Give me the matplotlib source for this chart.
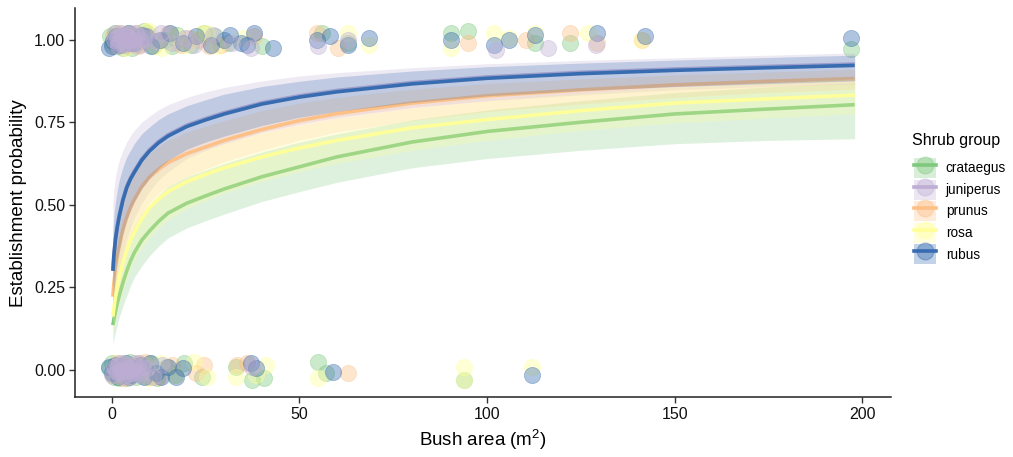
import numpy as np
import matplotlib
matplotlib.use("Agg")
import matplotlib.pyplot as plt
from matplotlib.patches import Patch
from matplotlib.lines import Line2D
from matplotlib.legend_handler import HandlerTuple

plt.rcParams['font.family'] = ['Liberation Sans', 'DejaVu Sans']
plt.rcParams['mathtext.fontset'] = 'custom'
plt.rcParams['mathtext.rm'] = 'Liberation Sans'
plt.rcParams['mathtext.it'] = 'Liberation Sans'

groups = ['crataegus', 'juniperus', 'prunus', 'rosa', 'rubus']
colors = ['#7FC97F', '#BEAED4', '#FDC086', '#FFFF99', '#386CB0']

area = [0.3, 0.6, 1, 1.5, 2, 3, 4, 5, 6, 8, 10, 12.5, 15, 20, 25, 30, 40, 50, 60, 80, 100, 125, 150, 175, 198]

fit = {
    'crataegus': [0.136, 0.155, 0.178, 0.203, 0.225, 0.265, 0.300, 0.330, 0.355, 0.393, 0.420, 0.450, 0.475,
                  0.505, 0.527, 0.548, 0.585, 0.615, 0.645, 0.690, 0.722, 0.750, 0.775, 0.790, 0.803],
    'juniperus': [0.304, 0.354, 0.399, 0.438, 0.469, 0.519, 0.556, 0.582, 0.602, 0.639, 0.666, 0.692, 0.712,
                  0.741, 0.761, 0.779, 0.809, 0.830, 0.846, 0.870, 0.887, 0.901, 0.911, 0.919, 0.926],
    'prunus':    [0.222, 0.265, 0.305, 0.343, 0.372, 0.425, 0.462, 0.492, 0.516, 0.555, 0.583, 0.608, 0.628,
                  0.655, 0.675, 0.695, 0.728, 0.755, 0.776, 0.808, 0.830, 0.848, 0.863, 0.874, 0.882],
    'rosa':      [0.162, 0.190, 0.222, 0.253, 0.280, 0.325, 0.362, 0.392, 0.416, 0.458, 0.490, 0.518, 0.540,
                  0.570, 0.592, 0.612, 0.645, 0.672, 0.695, 0.733, 0.758, 0.785, 0.808, 0.821, 0.832],
    'rubus':     [0.300, 0.350, 0.395, 0.434, 0.465, 0.515, 0.552, 0.578, 0.598, 0.635, 0.662, 0.688, 0.708,
                  0.737, 0.757, 0.775, 0.805, 0.826, 0.842, 0.866, 0.883, 0.897, 0.907, 0.915, 0.922],
}
lower = {
    'crataegus': [0.080, 0.095, 0.115, 0.140, 0.160, 0.195, 0.225, 0.255, 0.280, 0.315, 0.345, 0.375, 0.400,
                  0.430, 0.452, 0.472, 0.510, 0.540, 0.568, 0.612, 0.640, 0.665, 0.685, 0.695, 0.700],
    'juniperus': [0.140, 0.180, 0.220, 0.260, 0.295, 0.350, 0.395, 0.430, 0.460, 0.505, 0.540, 0.575, 0.600,
                  0.640, 0.665, 0.685, 0.720, 0.745, 0.765, 0.795, 0.815, 0.833, 0.848, 0.858, 0.866],
    'prunus':    [0.145, 0.180, 0.215, 0.250, 0.280, 0.330, 0.370, 0.405, 0.430, 0.475, 0.505, 0.535, 0.555,
                  0.585, 0.608, 0.630, 0.665, 0.695, 0.720, 0.755, 0.782, 0.805, 0.825, 0.840, 0.850],
    'rosa':      [0.100, 0.120, 0.150, 0.175, 0.200, 0.240, 0.275, 0.305, 0.330, 0.370, 0.400, 0.430, 0.455,
                  0.488, 0.512, 0.535, 0.570, 0.600, 0.625, 0.665, 0.695, 0.725, 0.748, 0.763, 0.775],
    'rubus':     [0.200, 0.245, 0.290, 0.330, 0.360, 0.415, 0.455, 0.485, 0.510, 0.550, 0.580, 0.610, 0.635,
                  0.668, 0.690, 0.708, 0.740, 0.765, 0.783, 0.810, 0.830, 0.846, 0.858, 0.867, 0.875],
}
upper = {
    'crataegus': [0.210, 0.230, 0.255, 0.280, 0.305, 0.345, 0.380, 0.410, 0.435, 0.475, 0.500, 0.530, 0.555,
                  0.585, 0.605, 0.625, 0.660, 0.690, 0.715, 0.757, 0.787, 0.815, 0.840, 0.857, 0.870],
    'juniperus': [0.500, 0.550, 0.585, 0.615, 0.635, 0.665, 0.690, 0.710, 0.725, 0.750, 0.768, 0.788, 0.803,
                  0.825, 0.842, 0.855, 0.875, 0.890, 0.900, 0.915, 0.927, 0.937, 0.945, 0.953, 0.960],
    'prunus':    [0.320, 0.365, 0.405, 0.440, 0.470, 0.515, 0.550, 0.575, 0.595, 0.630, 0.655, 0.678, 0.695,
                  0.720, 0.738, 0.755, 0.785, 0.808, 0.825, 0.850, 0.867, 0.881, 0.893, 0.902, 0.910],
    'rosa':      [0.250, 0.280, 0.310, 0.345, 0.370, 0.415, 0.450, 0.480, 0.505, 0.545, 0.575, 0.600, 0.620,
                  0.648, 0.668, 0.686, 0.716, 0.740, 0.760, 0.792, 0.815, 0.838, 0.857, 0.870, 0.882],
    'rubus':     [0.420, 0.470, 0.510, 0.545, 0.575, 0.615, 0.645, 0.665, 0.685, 0.715, 0.735, 0.758, 0.775,
                  0.800, 0.818, 0.835, 0.858, 0.874, 0.887, 0.905, 0.918, 0.929, 0.938, 0.946, 0.953],
}

# observed bushes (jittered 0/1 outcome)
pts_x = {
    'crataegus': [0.2, 0.8, 1.5, 2.4, 3.1, 4.6, 6.2, 8.5, 11.0, 14.2, 17.5, 21.0, 24.5, 31.0, 40.0, 56.0, 63.0, 90.3, 95.0,
                  112.7, 122.2, 197.0, -0.5, 5.5, 9.5, 16.0, 27.5,
                  0.1, 0.6, 1.2, 2.0, 2.9, 3.8, 5.0, 6.6, 8.2, 10.5, 12.0, 14.5, 16.8, 19.3, 24.0, 33.0, 37.5, 40.5, 55.0,
                  57.0, 94.0, -0.8, 4.2, 7.5, 9.3],
    'juniperus': [0.5, 1.0, 1.8, 2.5, 3.3, 4.0, 4.8, 5.5, 6.5, 7.5, 9.0, 11.5, 13.0, 16.0, 19.5, 22.0, 27.0, 32.0, 37.0,
                  55.0, 63.0, 102.5, 116.4, 129.0,
                  1.3, 2.0, 2.8, 3.6, 4.3, 5.0, 5.9, 6.8, 7.8, 8.6, 1.6, 3.9, 6.1, 2.4, 4.6,
                  1.0, 1.6, 2.2, 3.0, 3.6, 4.2, 5.0, 5.8, 6.5, 7.2, 8.0, 9.5, 11.0, 13.5, 37.5,
                  0.5, 1.3, 1.9, 2.6, 3.3, 3.9, 4.6, 5.3, 6.1, 6.9, 7.6, 8.4, 2.9, 4.9, 0.0],
    'prunus':    [0.3, 1.2, 2.0, 3.5, 5.2, 7.0, 9.5, 12.5, 15.0, 18.5, 23.0, 26.0, 38.0, 54.8, 60.3, 95.0, 110.5, 122.2,
                  129.2, 141.4, 4.0, 6.5, 8.0, 20.5, 29.0,
                  0.4, 1.4, 2.6, 4.4, 6.0, 8.8, 12.5, 16.0, 22.5, 24.5, 33.5, 36.0, 63.0, 3.2, 7.3, 10.5],
    'rosa':      [0.6, 1.6, 2.8, 4.2, 5.8, 7.8, 10.0, 13.5, 17.0, 20.0, 24.0, 28.0, 35.0, 62.9, 68.5, 90.3, 101.9, 105.8,
                  112.7, 127.0, 141.0, 3.5, 9.0, 11.5, 25.5,
                  0.8, 2.2, 3.4, 5.4, 7.6, 10.0, 13.0, 17.0, 22.0, 25.5, 33.0, 38.5, 41.0, 55.0, 94.0, 94.0, 112.0,
                  1.5, 4.8, 9.0],
    'rubus':     [0.1, 0.3, 1.1, 2.1, 3.0, 4.4, 6.0, 8.0, 10.5, 12.8, 15.5, 19.0, 22.5, 26.5, 30.0, 31.5, 34.5, 38.0,
                  43.0, 54.8, 58.3, 62.9, 68.5, 90.3, 101.9, 105.8, 112.7, 129.2, 142.0, 197.0, -0.8, 5.0, 9.0, 36.0,
                  0.2, 0.9, 1.8, 2.7, 3.9, 5.2, 6.8, 8.5, 10.2, 11.8, 15.0, 17.0, 19.0, 37.0, 38.5, 59.0, 112.0,
                  -0.6, 4.5, 7.5, 13.0],
}
pts_y = {
    'crataegus': [0.99, 1.02, 0.98, 1.01, 0.975, 1.02, 0.99, 1.025, 0.98, 1.0, 1.015, 0.985, 1.02, 0.99, 0.98, 1.02,
                  0.99, 1.02, 1.025, 0.99, 0.99, 0.973, 1.01, 0.975, 1.02, 0.98, 1.01,
                  0.02, -0.02, 0.01, -0.025, 0.015, -0.01, 0.025, -0.02, 0.0, 0.02, -0.025, 0.01, -0.015, 0.02, -0.02,
                  0.01, -0.03, -0.025, 0.025, -0.01, -0.03, 0.005, -0.025, 0.015, -0.02],
    'juniperus': [1.0, 1.02, 0.99, 1.01, 0.985, 1.015, 1.0, 0.99, 1.02, 0.985, 1.01, 0.995, 1.02, 0.99, 1.005, 0.985,
                  1.015, 0.99, 0.975, 0.98, 1.0, 0.97, 0.975, 0.985,
                  1.005, 0.995, 1.015, 0.99, 1.0, 1.02, 0.985, 1.01, 0.995, 1.005, 0.98, 1.01, 1.0, 1.02, 0.99,
                  0.0, 0.015, -0.01, 0.02, -0.015, 0.005, -0.02, 0.01, -0.005, 0.02, -0.01, 0.005, -0.02, 0.015, 0.01,
                  0.01, -0.005, 0.02, 0.0, -0.02, 0.015, 0.0, -0.01, 0.02, 0.005, -0.015, 0.01, -0.005, 0.0, -0.015],
    'prunus':    [1.01, 0.985, 1.02, 0.99, 1.005, 0.98, 1.015, 0.995, 1.02, 0.985, 1.0, 0.98, 1.01, 1.02, 0.975, 0.99,
                  1.0, 1.02, 0.99, 1.0, 0.98, 1.02, 0.99, 1.005, 0.985,
                  -0.015, 0.02, -0.02, 0.01, -0.005, 0.025, -0.02, 0.015, -0.01, 0.015, 0.015, 0.02, -0.01,
                  -0.025, 0.02, -0.02],
    'rosa':      [0.98, 1.015, 0.99, 1.02, 0.985, 1.0, 1.025, 0.975, 1.01, 0.985, 1.02, 0.98, 1.005, 1.02, 0.985,
                  0.975, 1.02, 1.005, 1.02, 1.02, 1.0, 0.975, 1.025, 0.98, 1.02,
                  0.01, -0.02, 0.02, -0.01, 0.015, -0.025, 0.02, -0.015, 0.025, -0.02, -0.02, -0.015, 0.015, -0.025,
                  0.01, -0.03, 0.01, 0.02, -0.02, 0.015],
    'rubus':     [0.98, 0.995, 1.01, 0.985, 1.005, 1.02, 0.99, 1.015, 0.98, 1.0, 1.02, 0.99, 1.01, 0.985, 1.0, 1.015,
                  0.99, 1.02, 0.975, 1.0, 1.01, 0.985, 1.005, 1.0, 0.985, 1.0, 1.015, 1.02, 1.01, 1.006,
                  0.975, 0.99, 1.01, 0.985,
                  -0.01, 0.015, -0.02, 0.01, 0.02, -0.015, 0.005, -0.02, 0.02, -0.01, 0.01, -0.02, 0.005, 0.02,
                  0.005, -0.005, -0.015, 0.01, -0.02, 0.015, -0.02],
}

fig = plt.figure(figsize=(10.13, 4.57), dpi=100)
ax = fig.add_axes([0.074, 0.131, 0.806, 0.851])

# juniperus drawn last so its blob sits on top, as in the original
point_order = ['crataegus', 'prunus', 'rosa', 'rubus', 'juniperus']
for g in point_order:
    c = colors[groups.index(g)]
    ax.scatter(pts_x[g], pts_y[g], s=135, color=c, alpha=0.4, edgecolors=c, linewidths=0.6, zorder=2)

for g, c in zip(groups, colors):
    ax.fill_between(area, lower[g], upper[g], color=c, alpha=0.25, linewidth=0, zorder=3)
    ax.plot(area, fit[g], color=c, lw=2.6, solid_capstyle='butt', zorder=3)

ax.set_xlim(-9.8, 207.8)
ax.set_ylim(-0.082, 1.095)
ax.set_xticks([0, 50, 100, 150, 200])
ax.set_yticks([0, 0.25, 0.5, 0.75, 1.0])
ax.set_yticklabels(['0.00', '0.25', '0.50', '0.75', '1.00'])
for s in ['top', 'right']:
    ax.spines[s].set_visible(False)
for s in ['left', 'bottom']:
    ax.spines[s].set_linewidth(1.1)
    ax.spines[s].set_color('#222222')
ax.tick_params(length=4, width=1, color='#333333', labelsize=11.5, labelcolor='#111111', pad=3)
ax.set_xlabel(r'Bush area (m$^2$)', fontsize=13.5, labelpad=4)
ax.set_ylabel('Establishment probability', fontsize=13.5, labelpad=5)

handles = []
for c in colors:
    handles.append((Patch(facecolor=c, alpha=0.3, edgecolor='none'),
                    Line2D([], [], color=c, lw=2.6),
                    Line2D([], [], marker='o', ls='', ms=12, color=c, alpha=0.4)))
leg = fig.legend(handles, groups, handler_map={tuple: HandlerTuple(ndivide=1, pad=0)},
                 loc='upper left', bbox_to_anchor=(0.893, 0.675), frameon=False,
                 fontsize=9.8, handlelength=1.62, handleheight=1.9, labelspacing=0.1,
                 handletextpad=0.7, borderpad=0.2)
fig.text(0.9, 1 - 141 / 457, 'Shrub group', fontsize=11.5, va='center', ha='left')

fig.savefig('out.png', dpi=100)
